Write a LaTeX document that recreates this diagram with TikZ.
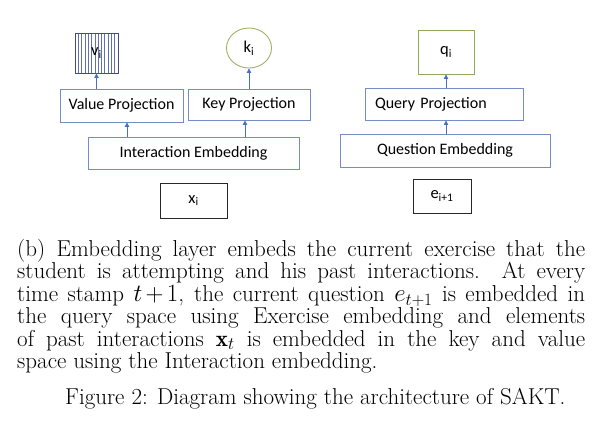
\documentclass[tikz,border=0pt]{standalone}
\usepackage{amsmath}
\usepackage{amssymb}
\usepackage{fontspec}
\usepackage{tikz}
\usetikzlibrary{arrows.meta,shapes.geometric}
\newfontfamily\boxfont{Carlito}

\definecolor{projblue}{RGB}{118,140,196}
\definecolor{arrowblue}{RGB}{68,114,196}
\definecolor{stripeblue}{RGB}{96,112,176}
\definecolor{keygreen}{RGB}{160,178,100}
\definecolor{querygreen}{RGB}{140,170,90}
\definecolor{inbox}{RGB}{40,40,40}

\begin{document}
\begin{tikzpicture}[x=1pt,y=1pt,yscale=-1,xscale=1,
    proj/.style={draw=projblue, line width=0.9pt, inner sep=0pt, font=\boxfont\fontsize{16}{18}\selectfont},
    item/.style={line width=0.9pt, inner sep=0pt, font=\boxfont\fontsize{16.5}{18}\selectfont},
    arr/.style={draw=arrowblue, line width=0.8pt, -{Triangle[width=4.5pt,length=4.5pt]}},
    captext/.style={inner sep=0pt, font=\fontsize{23}{22.4}\selectfont}]
        \useasboundingbox (0,0) rectangle (602,421);

        %Shape: Rectangle [value]
        \node [item, draw=stripeblue!70!black, minimum width=43pt, minimum height=40pt,
            path picture={\foreach \k in {1,...,12}
                \draw [stripeblue, line width=0.5pt] ([xshift=\k*3.3pt]path picture bounding box.south west) -- ([xshift=\k*3.3pt]path picture bounding box.north west);}]
            (vbox) at (96.5,53) {v$_{\text{i}}$};
        %Shape: Ellipse [key]
        \node [item, ellipse, draw=keygreen, minimum width=45pt, minimum height=40pt] (kcirc) at (249,48) {k$_{\text{i}}$};
        %Shape: Rectangle [query]
        \node [item, draw=querygreen, minimum width=56pt, minimum height=44pt] (qbox) at (446,52) {q$_{\text{i}}$};

        %Shape: Rectangle [projections]
        \node [proj, minimum width=123pt, minimum height=33pt] (vproj) at (121.5,105.5) {Value Projection};
        \node [proj, minimum width=122pt, minimum height=31pt] (kproj) at (249,104.5) {Key Projection};
        \node [proj, minimum height=32pt, text width=138pt, inner xsep=10pt, align=left] (qproj) at (444,104) {Query Projection};

        %Shape: Rectangle [embeddings]
        \node [proj, minimum width=211pt, minimum height=32pt] (iemb) at (193.5,153) {Interaction Embedding};
        \node [proj, minimum width=210pt, minimum height=33pt] (qemb) at (445,150.5) {Question Embedding};

        %Shape: Rectangle [inputs]
        \node [item, draw=inbox, minimum width=67pt, minimum height=35pt] (xbox) at (193.5,200.5) {x$_{\text{i}}$};
        \node [item, draw=inbox, minimum width=58pt, minimum height=34pt] (ebox) at (442,196) {e$_{\text{i+1}}$};

        %Straight Lines [arrows]
        \draw [arr] (vproj.north -| vbox.south) -- (vbox.south);
        \draw [arr] (kproj.north -| kcirc.south) -- (kcirc.south);
        \draw [arr] ([xshift=5.5pt]vproj.south |- iemb.north) -- ([xshift=5.5pt]vproj.south);
        \draw [arr] ([xshift=-4pt]kproj.south |- iemb.north) -- ([xshift=-4pt]kproj.south);
        \draw [arr] (qproj.north -| qbox.south) -- (qbox.south);
        \draw [arr] (qemb.north -| qbox.south) -- (qproj.south -| qbox.south);

        % Text Node
        \node [captext, anchor=base west, text width=568pt, align=justify] (subcap) at (17,256.5)
            {(b)\enspace Embedding layer embeds the current exercise that the\linebreak
            student is attempting and his past interactions. At every\linebreak
            time stamp $t\!+\!1$, the current question $e_{t+1}$ is embedded in\linebreak
            the query space using Exercise embedding and elements\linebreak
            of past interactions $\mathbf{x}_t$ is embedded in the key and value\linebreak
            space using the Interaction embedding.};
        % Text Node
        \node [captext, anchor=base west] (figcap) at (65,404) {Figure 2: Diagram showing the architecture of SAKT.};

\end{tikzpicture}
\end{document}
